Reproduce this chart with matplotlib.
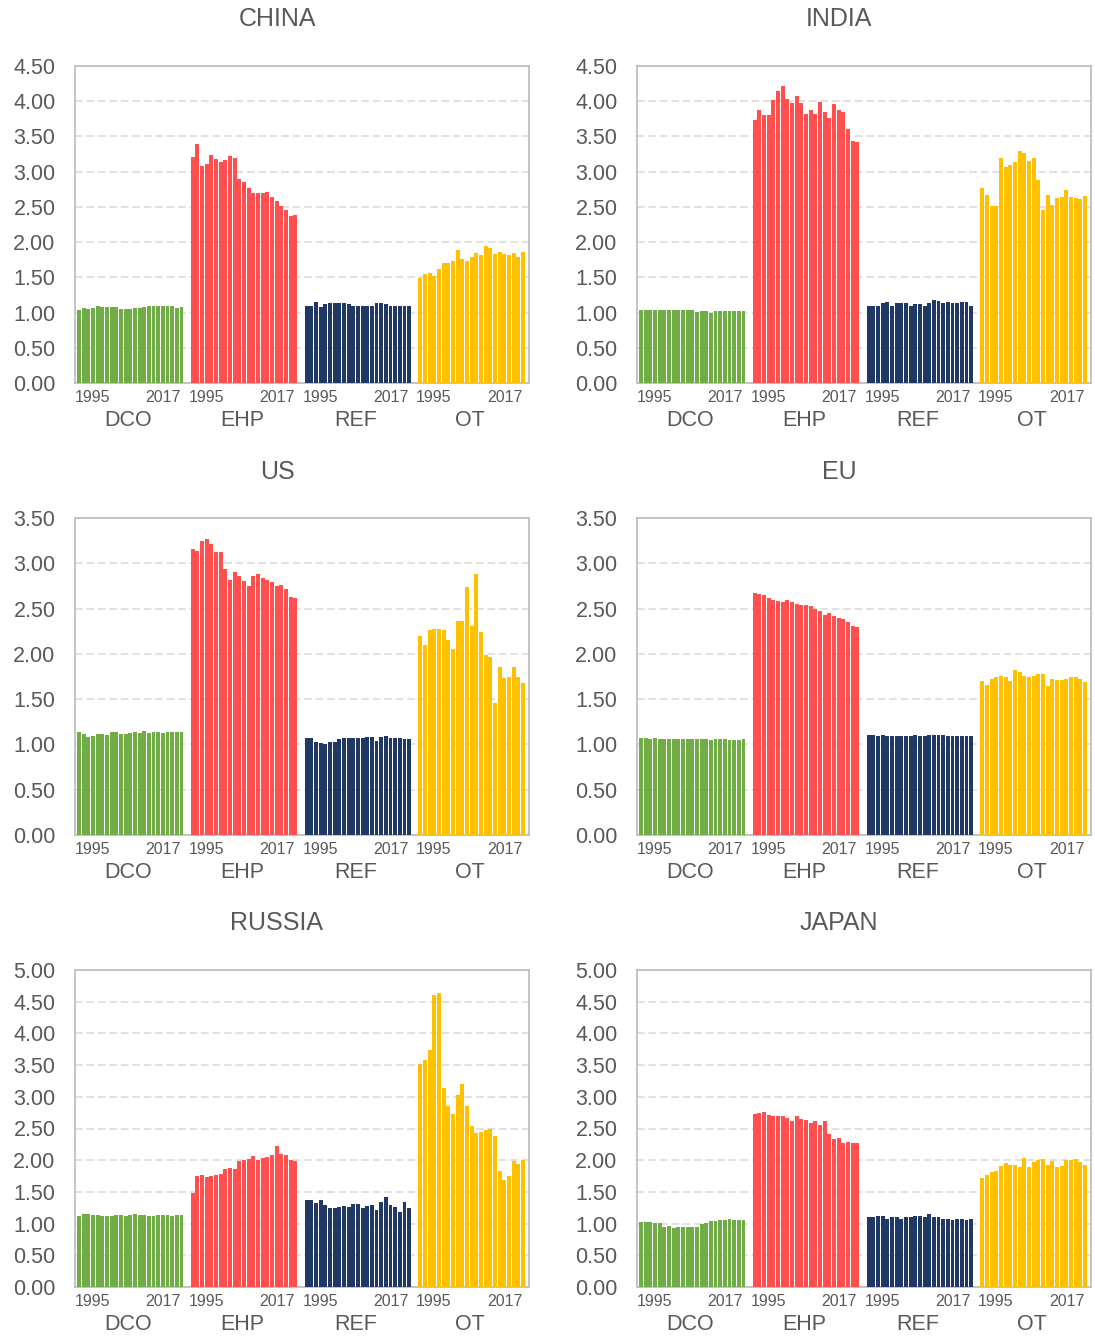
import matplotlib
matplotlib.use("Agg")
import matplotlib.pyplot as plt
import numpy as np

plt.rcParams["font.family"] = ["Liberation Sans", "DejaVu Sans"]

# ── Style ───────────────────────────────────────────────────────────────────────
GROUP_COLORS = ["#70AD47", "#FF4F4F", "#203864", "#FFC000"]
TEXT_COLOR   = "#595959"
GRID_COLOR   = "#D9D9D9"
FRAME_COLOR  = "#BFBFBF"

groups     = ["DCO", "EHP", "REF", "OT"]
first_year = "1995"
last_year  = "2017"

# ── Data: one value per year 1995-2017 for each sector group ────────────────────
china_dco = [1.03, 1.06, 1.05, 1.06, 1.09, 1.08, 1.08, 1.08, 1.08, 1.05, 1.05, 1.05,
             1.06, 1.06, 1.08, 1.10, 1.10, 1.10, 1.09, 1.10, 1.09, 1.06, 1.08]
china_ehp = [3.21, 3.39, 3.08, 3.11, 3.24, 3.18, 3.14, 3.17, 3.22, 3.19, 2.90, 2.85,
             2.77, 2.70, 2.70, 2.70, 2.71, 2.64, 2.58, 2.51, 2.45, 2.37, 2.38]
china_ref = [1.09, 1.10, 1.15, 1.08, 1.12, 1.13, 1.13, 1.13, 1.13, 1.12, 1.10, 1.10,
             1.10, 1.10, 1.10, 1.13, 1.13, 1.12, 1.10, 1.10, 1.10, 1.09, 1.10]
china_ot  = [1.49, 1.55, 1.56, 1.52, 1.62, 1.70, 1.70, 1.73, 1.89, 1.76, 1.73, 1.79,
             1.84, 1.82, 1.94, 1.91, 1.83, 1.86, 1.83, 1.82, 1.84, 1.79, 1.86]

india_dco = [1.03, 1.03, 1.03, 1.03, 1.03, 1.03, 1.03, 1.03, 1.03, 1.03, 1.03, 1.03,
             1.01, 1.02, 1.02, 1.00, 1.02, 1.02, 1.02, 1.02, 1.02, 1.02, 1.02]
india_ehp = [3.73, 3.87, 3.80, 3.80, 4.02, 4.15, 4.22, 4.03, 3.98, 4.08, 3.98, 3.82,
             3.88, 3.82, 3.99, 3.85, 3.76, 3.96, 3.88, 3.85, 3.61, 3.44, 3.42]
india_ref = [1.09, 1.09, 1.10, 1.13, 1.15, 1.09, 1.13, 1.13, 1.13, 1.10, 1.12, 1.12,
             1.09, 1.13, 1.18, 1.16, 1.13, 1.15, 1.13, 1.13, 1.15, 1.15, 1.10]
india_ot  = [2.77, 2.67, 2.51, 2.51, 3.19, 3.07, 3.09, 3.14, 3.29, 3.27, 3.15, 3.19,
             2.88, 2.45, 2.67, 2.53, 2.63, 2.64, 2.74, 2.64, 2.63, 2.61, 2.65]

us_dco = [1.14, 1.11, 1.08, 1.09, 1.12, 1.12, 1.10, 1.14, 1.14, 1.12, 1.12, 1.13,
          1.14, 1.13, 1.15, 1.13, 1.14, 1.14, 1.13, 1.14, 1.14, 1.14, 1.14]
us_ehp = [3.16, 3.14, 3.25, 3.27, 3.21, 3.12, 3.12, 2.94, 2.82, 2.90, 2.86, 2.80,
          2.75, 2.86, 2.88, 2.84, 2.81, 2.79, 2.75, 2.76, 2.72, 2.63, 2.62]
us_ref = [1.07, 1.07, 1.03, 1.02, 1.01, 1.03, 1.03, 1.06, 1.07, 1.07, 1.07, 1.07,
          1.07, 1.08, 1.08, 1.04, 1.08, 1.09, 1.07, 1.07, 1.07, 1.06, 1.06]
us_ot  = [2.20, 2.10, 2.26, 2.27, 2.27, 2.26, 2.15, 2.05, 2.36, 2.36, 2.74, 2.31,
          2.88, 2.24, 1.99, 1.96, 1.46, 1.86, 1.73, 1.75, 1.85, 1.75, 1.68]

eu_dco = [1.07, 1.07, 1.06, 1.07, 1.06, 1.06, 1.06, 1.06, 1.06, 1.06, 1.06, 1.06,
          1.06, 1.06, 1.06, 1.05, 1.06, 1.06, 1.06, 1.05, 1.05, 1.05, 1.06]
eu_ehp = [2.67, 2.66, 2.65, 2.62, 2.60, 2.58, 2.57, 2.60, 2.57, 2.55, 2.54, 2.54,
          2.53, 2.50, 2.47, 2.43, 2.45, 2.42, 2.40, 2.39, 2.35, 2.31, 2.30]
eu_ref = [1.10, 1.10, 1.09, 1.10, 1.09, 1.09, 1.09, 1.09, 1.09, 1.09, 1.10, 1.09,
          1.09, 1.10, 1.10, 1.10, 1.10, 1.09, 1.09, 1.09, 1.09, 1.09, 1.09]
eu_ot  = [1.70, 1.66, 1.72, 1.75, 1.76, 1.75, 1.70, 1.82, 1.80, 1.76, 1.75, 1.76,
          1.78, 1.78, 1.64, 1.72, 1.71, 1.71, 1.72, 1.74, 1.74, 1.72, 1.69]

russia_dco = [1.12, 1.15, 1.15, 1.13, 1.13, 1.12, 1.12, 1.12, 1.13, 1.13, 1.12, 1.13,
              1.15, 1.13, 1.13, 1.12, 1.12, 1.13, 1.13, 1.13, 1.12, 1.13, 1.13]
russia_ehp = [1.48, 1.75, 1.76, 1.73, 1.75, 1.76, 1.78, 1.86, 1.87, 1.86, 1.98, 2.00,
              2.02, 2.06, 2.00, 2.03, 2.05, 2.08, 2.22, 2.09, 2.08, 2.00, 1.98]
russia_ref = [1.37, 1.37, 1.32, 1.37, 1.29, 1.24, 1.24, 1.26, 1.27, 1.26, 1.31, 1.31,
              1.24, 1.27, 1.29, 1.21, 1.34, 1.42, 1.29, 1.26, 1.18, 1.34, 1.24]
russia_ot  = [3.52, 3.58, 3.74, 4.61, 4.64, 3.14, 2.85, 2.73, 3.03, 3.20, 2.85, 2.54,
              2.43, 2.44, 2.47, 2.49, 2.38, 1.83, 1.68, 1.75, 1.98, 1.94, 2.00]

japan_dco = [1.02, 1.02, 1.02, 1.01, 1.01, 0.94, 0.96, 0.93, 0.95, 0.95, 0.95, 0.95,
             0.95, 0.99, 1.01, 1.04, 1.04, 1.05, 1.05, 1.07, 1.05, 1.05, 1.05]
japan_ehp = [2.73, 2.74, 2.76, 2.71, 2.69, 2.69, 2.69, 2.66, 2.62, 2.69, 2.65, 2.63,
             2.58, 2.62, 2.55, 2.62, 2.41, 2.33, 2.35, 2.27, 2.28, 2.27, 2.27]
japan_ref = [1.10, 1.10, 1.12, 1.12, 1.08, 1.10, 1.10, 1.08, 1.10, 1.10, 1.12, 1.12,
             1.10, 1.15, 1.10, 1.10, 1.08, 1.07, 1.05, 1.07, 1.07, 1.05, 1.07]
japan_ot  = [1.72, 1.76, 1.81, 1.83, 1.91, 1.95, 1.92, 1.92, 1.89, 2.03, 1.89, 1.97,
             2.00, 2.02, 1.92, 1.98, 1.89, 1.91, 2.00, 2.00, 2.02, 1.97, 1.92]

regions = ["CHINA", "INDIA", "US", "EU", "RUSSIA", "JAPAN"]
region_series = {
    "CHINA":  [china_dco, china_ehp, china_ref, china_ot],
    "INDIA":  [india_dco, india_ehp, india_ref, india_ot],
    "US":     [us_dco, us_ehp, us_ref, us_ot],
    "EU":     [eu_dco, eu_ehp, eu_ref, eu_ot],
    "RUSSIA": [russia_dco, russia_ehp, russia_ref, russia_ot],
    "JAPAN":  [japan_dco, japan_ehp, japan_ref, japan_ot],
}
y_max = {"CHINA": 4.5, "INDIA": 4.5, "US": 3.5, "EU": 3.5, "RUSSIA": 5.0, "JAPAN": 5.0}


# ── Layout (pixel geometry of a 1095 x 1337 canvas) ────────────────────────────
W, H = 1095, 1337
fig = plt.figure(figsize=(W / 100, H / 100), dpi=100)

col_left   = [75, 637]
col_title  = [277, 839]
row_bottom = [383, 835, 1287]
row_title  = [19, 472, 923]
ax_w, ax_h = 454, 317
SLOT  = 24.42          # 23 years plus the gap between sector groups
X_MIN = -0.85
X_MAX = X_MIN + 97.4


def draw_panel(ax, series, top):
    trans = ax.get_xaxis_transform()
    for g, values in enumerate(series):
        x0 = g * SLOT
        ax.bar(x0 + np.arange(len(values)), values, width=0.84,
               color=GROUP_COLORS[g], zorder=3)
        # year labels at both ends of the group and the group name below
        ax.text(x0 + 2.9, -14 / ax_h, first_year, transform=trans,
                ha="center", va="center", fontsize=11.5, color=TEXT_COLOR)
        ax.text(x0 + 18.1, -14 / ax_h, last_year, transform=trans,
                ha="center", va="center", fontsize=11.5, color=TEXT_COLOR)
        ax.text(x0 + 10.6, -37 / ax_h, groups[g], transform=trans,
                ha="center", va="center", fontsize=15.5, color=TEXT_COLOR)

    ax.set_xlim(X_MIN, X_MAX)
    ax.set_ylim(0, top)
    ticks = np.arange(0, top + 0.01, 0.5)
    ax.set_yticks(ticks)
    ax.set_yticklabels([f"{t:.2f}" for t in ticks])
    ax.set_xticks([])
    ax.tick_params(axis="y", length=0, pad=14, labelsize=15.5, labelcolor=TEXT_COLOR)
    ax.yaxis.grid(True, color=GRID_COLOR, linewidth=1.1,
                  linestyle=(0, (5, 2.5)), zorder=0)
    ax.set_axisbelow(True)
    for side in ["left", "right", "top", "bottom"]:
        ax.spines[side].set_color(FRAME_COLOR)
        ax.spines[side].set_linewidth(1.3)


for k, name in enumerate(regions):
    row, col = divmod(k, 2)
    left = col_left[col] / W
    bottom = 1 - row_bottom[row] / H
    ax = fig.add_axes([left, bottom, ax_w / W, ax_h / H])
    draw_panel(ax, region_series[name], y_max[name])
    fig.text(col_title[col] / W, 1 - row_title[row] / H, name,
             ha="center", va="center", fontsize=18, color=TEXT_COLOR)

fig.savefig("out.png", dpi=100, facecolor="white")
